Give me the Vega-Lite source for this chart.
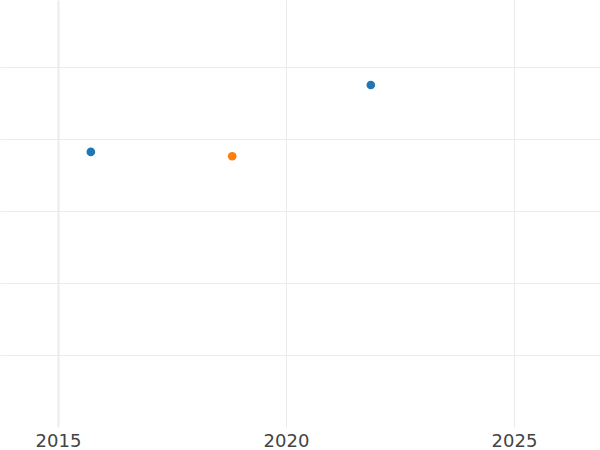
{
  "$schema": "https://vega.github.io/schema/vega-lite/v6.json",
  "width": 600,
  "height": 427,
  "padding": {"left": 0, "top": 0, "right": 0, "bottom": 23},
  "autosize": {"type": "none"},
  "background": "white",
  "config": {"view": {"stroke": null}},
  "data": {"values": [
    {"year": 2015.72, "value": 3.82, "series": "A"},
    {"year": 2018.82, "value": 3.76, "series": "B"},
    {"year": 2021.86, "value": 4.75, "series": "A"}
  ]},
  "mark": {"type": "circle", "size": 75, "opacity": 1},
  "encoding": {
    "x": {"field": "year", "type": "quantitative", "title": null,
      "scale": {"domain": [2013.728, 2026.886], "nice": false, "zero": false},
      "axis": {"values": [2015, 2020, 2025], "format": "d", "domain": false, "ticks": false,
        "grid": true, "gridColor": "#ebebeb",
        "gridWidth": {"condition": {"test": "datum.value == 2015", "value": 2}, "value": 1},
        "labelFontSize": 18, "labelColor": "#444", "labelFont": "DejaVu Sans", "labelPadding": 5}},
    "y": {"field": "value", "type": "quantitative", "title": null,
      "scale": {"domain": [0, 5.93], "nice": false},
      "axis": {"values": [1, 2, 3, 4, 5], "labels": false, "domain": false, "ticks": false,
        "grid": true, "gridColor": "#ebebeb", "gridWidth": 1}},
    "color": {"field": "series", "type": "nominal", "legend": null,
      "scale": {"domain": ["A", "B"], "range": ["#1f77b4", "#ff7f0e"]}}
  }
}
